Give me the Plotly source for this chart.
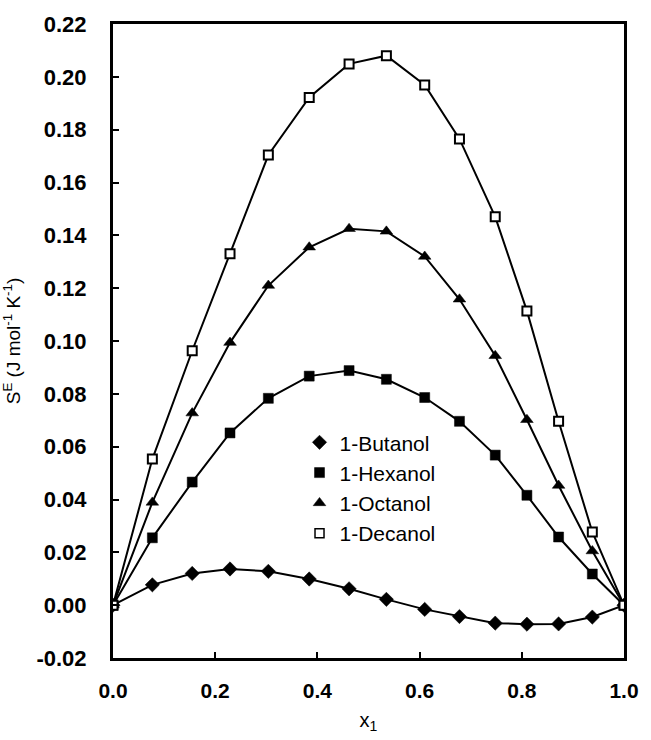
import plotly.graph_objects as go

x1 = [0, 0.077, 0.155, 0.229, 0.304, 0.384, 0.462, 0.535, 0.610, 0.678, 0.748, 0.810, 0.872, 0.938, 1.0]
butanol = [0, 0.0077, 0.0120, 0.0137, 0.0128, 0.0099, 0.0062, 0.0022, -0.0016, -0.0043, -0.0068, -0.0072, -0.0071, -0.0045, 0]
hexanol = [0, 0.0255, 0.0466, 0.0652, 0.0783, 0.0867, 0.0888, 0.0855, 0.0786, 0.0696, 0.0568, 0.0416, 0.0258, 0.0118, 0]
octanol = [0, 0.0389, 0.0727, 0.0994, 0.1210, 0.1355, 0.1425, 0.1415, 0.1320, 0.1158, 0.0944, 0.0702, 0.0453, 0.0205, 0]
decanol = [0, 0.0553, 0.0963, 0.1330, 0.1704, 0.1922, 0.2049, 0.2080, 0.1969, 0.1765, 0.1470, 0.1114, 0.0696, 0.0277, 0]

names = ["1-Butanol", "1-Hexanol", "1-Octanol", "1-Decanol"]
series = [butanol, hexanol, octanol, decanol]

y_tickvals = [-0.02, 0.0, 0.02, 0.04, 0.06, 0.08, 0.10, 0.12, 0.14, 0.16, 0.18, 0.20, 0.22]
y_ticktext = ["-0.02", "0.00", "0.02", "0.04", "0.06", "0.08", "0.10", "0.12", "0.14", "0.16", "0.18", "0.20", "0.22"]
x_tickvals = [0.0, 0.2, 0.4, 0.6, 0.8, 1.0]
x_ticktext = ["0.0", "0.2", "0.4", "0.6", "0.8", "1.0"]

symbols = ["diamond", "square", "triangle-up", "square"]
sizes = [11, 10, 11, 9]
fills = ["black", "black", "black", "white"]

fig = go.Figure()
for name, ys, sym, sz, fc in zip(names, series, symbols, sizes, fills):
    fig.add_trace(go.Scatter(
        x=x1, y=ys, mode="lines+markers", name=name, showlegend=False,
        line=dict(color="black", width=2),
        marker=dict(symbol=sym, size=sz, color=fc, line=dict(color="black", width=2 if fc == "white" else 0.5)),
    ))
for name, sym, sz, fc in zip(names, symbols, sizes, fills):
    fig.add_trace(go.Scatter(
        x=[None], y=[None], mode="markers", name=name,
        marker=dict(symbol=sym, size=sz, color=fc, line=dict(color="black", width=1.5 if fc == "white" else 0.5)),
    ))

fig.update_layout(
    width=651, height=740,
    margin=dict(l=112, r=19, t=22, b=75),
    paper_bgcolor="white", plot_bgcolor="white",
    font=dict(family="Liberation Sans, Arial", color="black"),
    legend=dict(x=0.365, y=0.372, xanchor="left", yanchor="top",
                font=dict(size=21, family="Liberation Sans, Arial"),
                bgcolor="rgba(0,0,0,0)", itemwidth=30),
)
fig.update_xaxes(
    range=[0, 1], tickvals=x_tickvals, ticktext=x_ticktext,
    showline=True, linecolor="black", linewidth=3, mirror=True,
    ticks="inside", ticklen=6, tickwidth=1.5, tickcolor="black",
    showgrid=False, zeroline=False,
    tickfont=dict(size=21, weight="bold"), ticklabelstandoff=12,
    title=dict(text="x<sub>1</sub>", font=dict(size=20), standoff=12),
)
fig.update_yaxes(
    range=[-0.02, 0.22], tickvals=y_tickvals, ticktext=y_ticktext,
    showline=True, linecolor="black", linewidth=3, mirror=True,
    ticks="inside", ticklen=6, tickwidth=1.5, tickcolor="black",
    showgrid=False, zeroline=False,
    tickfont=dict(size=22, weight="bold"), ticklabelstandoff=19,
    title=dict(text="S<sup>E</sup> (J mol<sup>-1</sup> K<sup>-1</sup>)", font=dict(size=19), standoff=11),
)

post = (
    "document.documentElement.style.margin='0';"
    "document.documentElement.style.overflow='hidden';"
    "document.body.style.margin='0';"
    "document.body.style.overflow='hidden';"
)
fig.write_html("out.html", config={"displayModeBar": False}, post_script=post)
